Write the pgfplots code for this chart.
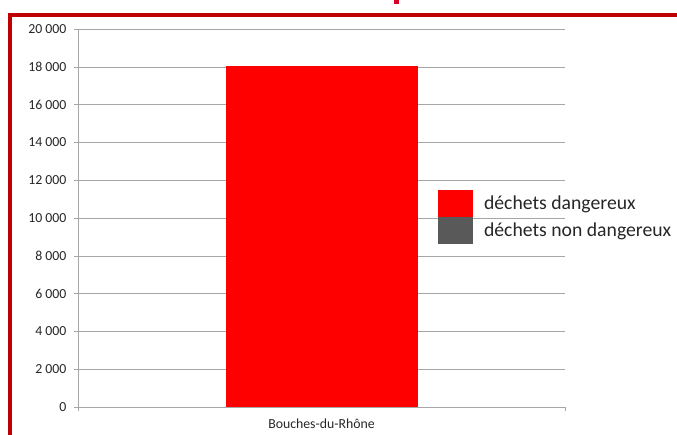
\documentclass[border=0pt]{standalone}
\usepackage{fontspec}
\setmainfont{Carlito}
\usepackage{pgfplots}
\pgfplotsset{compat=1.18}
\definecolor{framered}{HTML}{C00000}
\definecolor{barred}{HTML}{FF0000}
\definecolor{bargray}{HTML}{595959}
\definecolor{gridgray}{HTML}{A6A6A6}
\definecolor{labelgray}{HTML}{262626}

\begin{document}
\begin{tikzpicture}[x=1pt,y=1pt]
\useasboundingbox (0,0) rectangle (677,435);
% red frame of the slide and the cut-off title
\fill[framered] (8,0) rectangle (12,422);
\fill[framered] (8,418) rectangle (677,422);
\fill[red!85!blue] (394,431) rectangle (399,435);
\begin{axis}[
    at={(78pt,28pt)}, anchor=south west,
    scale only axis,
    width=487pt, height=378pt,
    ybar stacked,
    bar width=192pt,
    xmin=-0.5, xmax=0.5,
    ymin=0, ymax=20000,
    ytick distance=2000,
    scaled y ticks=false,
    axis lines*=left,
    axis line style={gridgray},
    ymajorgrids,
    grid style={gridgray},
    tick style={gridgray},
    tick align=outside,
    major tick length=4pt,
    xtick={-0.5,0.5},
    xticklabels={},
    extra x ticks={0},
    extra x tick labels={Bouches-du-Rhône},
    extra x tick style={major tick length=0pt, grid=none,
        xticklabel style={yshift=-8pt}},
    yticklabel style={xshift=-4pt},
    /pgf/number format/assume math mode=true,
    /pgf/number format/1000 sep={\ },
    ticklabel style={font=\fontsize{13.8}{16}\selectfont, text=labelgray},
    area legend,
    % swatch plus the gap before the text
    legend image code/.code={\fill[#1] (0pt,-13.5pt) rectangle (35pt,13.5pt);
        \path (46pt,0pt);},
    legend style={draw=none, fill=none, inner sep=0pt,
        at={(axis description cs:0.739,0.574)}, anchor=north west,
        font=\fontsize{19.7}{22}\selectfont, text=labelgray,
        row sep=0pt, column sep=0pt,
        nodes={inner sep=0pt, anchor=west}},
    legend cell align=left,
]
\addplot[fill=barred, draw=none] coordinates {(0,18050)};
\addplot[fill=bargray, draw=none] coordinates {(0,0)};
\legend{déchets dangereux, déchets non dangereux}
\end{axis}
\end{tikzpicture}
\end{document}
